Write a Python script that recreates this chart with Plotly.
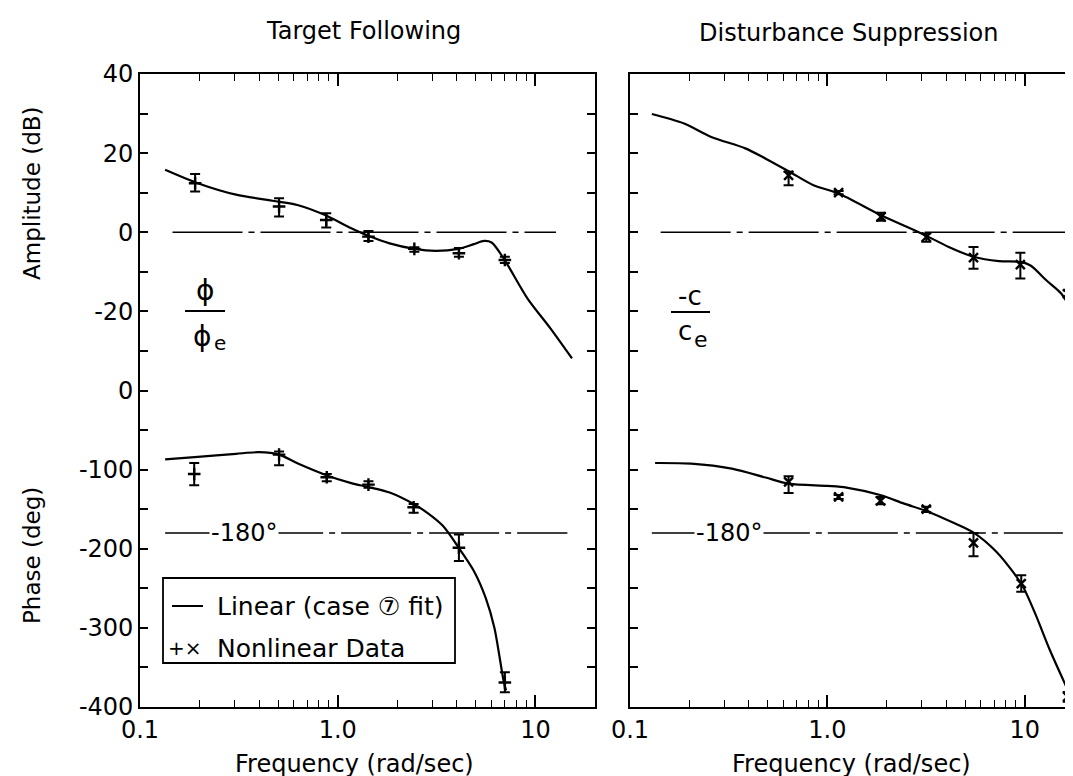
import plotly.graph_objects as go

# ---------------- data ----------------
# Target Following, amplitude (dB) linear-fit curve
TF_AMP_F = [0.134, 0.196, 0.306, 0.478, 0.625, 0.857, 1.17, 1.46, 1.83, 2.44, 3.12, 4.07, 4.88, 5.5, 6.0, 6.9, 9.1, 11.9, 15.3]
TF_AMP_DB = [15.8, 12.4, 9.5, 7.9, 6.9, 4.4, 1.0, -1.1, -2.8, -4.2, -4.7, -4.2, -3.0, -2.2, -2.6, -6.6, -16.7, -24.3, -31.9]
# Target Following, amplitude data points
TF_AMP_PT_F = [0.19, 0.505, 0.875, 1.43, 2.44, 4.1, 7.0]
TF_AMP_PT_DB = [12.4, 6.5, 3.1, -1.1, -4.2, -5.3, -7.0]
TF_AMP_PT_HI = [14.7, 8.6, 4.8, 0.3, -3.8, -4.0, -6.2]
TF_AMP_PT_LO = [10.3, 4.0, 1.2, -2.2, -4.9, -6.2, -7.8]
# Target Following, phase (deg) curve
TF_PH_F = [0.134, 0.196, 0.306, 0.40, 0.505, 0.625, 0.875, 1.17, 1.43, 1.83, 2.44, 2.85, 3.4, 4.1, 4.88, 5.6, 6.2, 6.9, 7.1]
TF_PH_DEG = [-87, -84, -80, -78, -81, -92, -107, -117, -122, -129, -144, -155, -171, -199, -228, -262, -300, -367, -379]
# Target Following, phase data points
TF_PH_PT_F = [0.188, 0.505, 0.88, 1.43, 2.42, 4.1, 7.0]
TF_PH_PT_DEG = [-105.5, -81, -109.7, -119, -147.5, -198.7, -369]
TF_PH_PT_HI = [-91.6, -77, -105.5, -114.7, -143.3, -182, -356]
TF_PH_PT_LO = [-119.7, -94.5, -114.7, -123, -154.6, -215.5, -381.5]

# Disturbance Suppression, amplitude curve
DS_AMP_F = [0.129, 0.188, 0.258, 0.384, 0.487, 0.643, 0.85, 1.14, 1.87, 3.0, 4.12, 5.5, 7.4, 9.5, 10.7, 12.9, 15.3, 16.9]
DS_AMP_DB = [29.9, 27.5, 24.1, 21.2, 18.6, 15.3, 11.9, 9.8, 4.3, -0.3, -3.7, -6.2, -7.3, -7.5, -8.4, -12.2, -15.5, -18.9]
DS_AMP_PT_F = [0.636, 1.14, 1.87, 3.17, 5.5, 9.5, 16.5]
DS_AMP_PT_DB = [14.4, 10.0, 3.9, -1.2, -6.4, -8.2, -15.5]
DS_AMP_PT_HI = [15.3, 10.4, 4.9, -0.3, -3.7, -5.2, -14.7]
DS_AMP_PT_LO = [11.9, 9.6, 2.9, -2.4, -9.2, -11.7, -16.4]
# Disturbance Suppression, phase curve
DS_PH_F = [0.134, 0.204, 0.328, 0.487, 0.636, 1.0, 1.25, 1.87, 2.45, 3.17, 4.44, 5.6, 7.2, 8.7, 9.8, 11.3, 13.4, 16.7]
DS_PH_DEG = [-91.6, -92.4, -98.7, -110, -117.7, -120.6, -122.7, -132.4, -143, -152.2, -168.2, -180.8, -204, -229, -248, -282, -328, -381]
DS_PH_PT_F = [0.636, 1.14, 1.86, 3.17, 5.5, 9.6, 16.5]
DS_PH_PT_DEG = [-115.6, -134.5, -139.6, -150, -192.6, -244, -387]
DS_PH_PT_HI = [-108.4, -132, -134.5, -147, -180, -233.5, -381]
DS_PH_PT_LO = [-129.5, -137, -143.8, -153.5, -209.5, -254.5, -393.5]

# reference lines: (f_start, f_end)
TF_ZERO_DB = [0.146, 12.7]
TF_M180 = [0.134, 14.5]
DS_ZERO_DB = [0.143, 16.1]
DS_M180 = [0.129, 15.6]

# tick labels
AMP_TICKS = [40, 20, 0, -20]
PHASE_TICKS = [0, -100, -200, -300, -400]
X_TICKS = [0.1, 1, 10]
X_TICK_TEXT = ["0.1", "1.0", "10"]
X_MINOR = [0.2, 0.3, 0.4, 0.5, 0.6, 0.7, 0.8, 0.9, 2, 3, 4, 5, 6, 7, 8, 9]

# ---------------- helpers ----------------
FONT = "DejaVu Sans"
BLACK = "black"
L, T, W, H = 132, 66, 941, 633  # plot area in pixels (figure 1073x776)


def amp(db):
    """dB -> shared vertical coordinate (20 dB per 100 units, 0 dB at 200)."""
    return [200 + 5 * d for d in db]


def P(px, py):
    return dict(x=(px - L) / W, y=(T + H - py) / H, xref="paper", yref="paper")


fig = go.Figure()


def curve(f, y, xa, ya):
    fig.add_trace(go.Scatter(x=f, y=y, mode="lines",
                             line=dict(color=BLACK, width=2.2, shape="spline", smoothing=0.8),
                             xaxis=xa, yaxis=ya, showlegend=False, hoverinfo="skip"))


def points(f, y, hi, lo, xa, ya, symbol):
    fig.add_trace(go.Scatter(
        x=f, y=y, mode="markers",
        marker=dict(symbol=symbol, size=9, color=BLACK, line=dict(color=BLACK, width=2.4)),
        error_y=dict(type="data", symmetric=False,
                     array=[h - c for h, c in zip(hi, y)],
                     arrayminus=[c - l for c, l in zip(y, lo)],
                     color=BLACK, thickness=2, width=5),
        xaxis=xa, yaxis=ya, showlegend=False, hoverinfo="skip"))


def refline(fr, yv, xa, ya):
    fig.add_trace(go.Scatter(x=fr, y=[yv, yv], mode="lines",
                             line=dict(color=BLACK, width=1.6, dash="70px,6px,6px,6px"),
                             xaxis=xa, yaxis=ya, showlegend=False, hoverinfo="skip"))


# reference lines
refline(TF_ZERO_DB, amp([0])[0], "x", "y")
refline(TF_M180, -180, "x", "y")
refline(DS_ZERO_DB, amp([0])[0], "x2", "y2")
refline(DS_M180, -180, "x2", "y2")

# left panel
curve(TF_AMP_F, amp(TF_AMP_DB), "x", "y")
curve(TF_PH_F, TF_PH_DEG, "x", "y")
points(TF_AMP_PT_F, amp(TF_AMP_PT_DB), amp(TF_AMP_PT_HI), amp(TF_AMP_PT_LO), "x", "y", "cross-thin")
points(TF_PH_PT_F, TF_PH_PT_DEG, TF_PH_PT_HI, TF_PH_PT_LO, "x", "y", "cross-thin")

# right panel
curve(DS_AMP_F, amp(DS_AMP_DB), "x2", "y2")
curve(DS_PH_F, DS_PH_DEG, "x2", "y2")
points(DS_AMP_PT_F, amp(DS_AMP_PT_DB), amp(DS_AMP_PT_HI), amp(DS_AMP_PT_LO), "x2", "y2", "x-thin")
points(DS_PH_PT_F, DS_PH_PT_DEG, DS_PH_PT_HI, DS_PH_PT_LO, "x2", "y2", "x-thin")

# y ticks: labels every 100 units, minor ticks in between
y_major = [200 + 5 * a for a in AMP_TICKS] + PHASE_TICKS
y_text = [str(a) for a in AMP_TICKS] + [str(p) for p in PHASE_TICKS]
y_minor = [v + 50 for v in y_major if v < 400]

xcommon = dict(type="log", tickmode="array", tickvals=X_TICKS, ticktext=X_TICK_TEXT,
               ticks="inside", ticklen=12, tickwidth=1.5, tickcolor=BLACK,
               showline=True, linecolor=BLACK, linewidth=1.6, mirror="ticks",
               showgrid=False, zeroline=False, automargin=False,
               minor=dict(tickvals=X_MINOR, ticks="inside", ticklen=7, tickwidth=1.3,
                          tickcolor=BLACK, showgrid=False),
               tickfont=dict(family=FONT, size=24, color=BLACK), ticklabelstandoff=0)
ycommon = dict(range=[-400, 400], tickmode="array", tickvals=y_major, ticktext=y_text,
               ticks="inside", ticklen=8, tickwidth=1.5, tickcolor=BLACK,
               showline=True, linecolor=BLACK, linewidth=1.6, mirror="ticks",
               showgrid=False, zeroline=False, domain=[0, 1], automargin=False,
               minor=dict(tickvals=y_minor, ticks="inside", ticklen=8, tickwidth=1.5,
                          tickcolor=BLACK, showgrid=False),
               tickfont=dict(family=FONT, size=24, color=BLACK))

fig.update_layout(
    width=1073, height=776, autosize=False,
    margin=dict(l=L, r=1073 - L - W, t=T, b=776 - T - H),
    paper_bgcolor="white", plot_bgcolor="white",
    font=dict(family=FONT, color=BLACK),
    xaxis=dict(xcommon, domain=[0, 455 / W], range=[-1, 1.301], anchor="y"),
    yaxis=dict(ycommon, anchor="x"),
    xaxis2=dict(xcommon, domain=[490 / W, 1], range=[-1, 1.285], anchor="y2"),
    yaxis2=dict(ycommon, anchor="x2", showticklabels=False),
)

ann = []


def text(s, px, py, size=23, angle=0, bg=None, anchor="center"):
    d = dict(P(px, py), text=s, showarrow=False, xanchor=anchor, yanchor="middle",
             font=dict(family=FONT, size=size, color=BLACK), textangle=angle)
    if bg:
        d["bgcolor"] = bg
    ann.append(d)


text("Target Following", 355, 23, 24)
text("Disturbance Suppression", 840, 25, 24)
text("Amplitude (dB)", 24, 185, 23, -90)
text("Phase (deg)", 24, 548, 23, -90)
text("Frequency (rad/sec)", 346, 756, 24)
text("Frequency (rad/sec)", 843, 756, 24)
# fraction labels
text("ϕ", 197, 282, 28)
text("ϕ", 194, 328, 28)
text("e", 212, 335, 20)
text("-c", 682, 288, 26)
text("c", 677, 323, 26)
text("e", 693, 331, 22)
text("-180°", 236, 525, 24, bg="white")
text("-180°", 721, 525, 24, bg="white")
# legend contents
text("Linear (case ⑦ fit)", 207, 598, 25, anchor="left")
text("+×", 177, 640, 20)
text("Nonlinear Data", 207, 640, 25, anchor="left")
fig.update_layout(annotations=ann)


def pline(x0, y0, x1, y1, w=2):
    a, b = P(x0, y0), P(x1, y1)
    return dict(type="line", xref="paper", yref="paper", x0=a["x"], y0=a["y"], x1=b["x"], y1=b["y"],
                line=dict(color=BLACK, width=w))


shapes = [
    pline(177, 303, 217, 303),
    pline(663, 304, 702, 304),
    pline(164, 598, 195, 598),
]
a, b = P(155, 570), P(447, 655)
shapes.append(dict(type="rect", xref="paper", yref="paper", x0=a["x"], y0=a["y"], x1=b["x"], y1=b["y"],
                   line=dict(color=BLACK, width=1.8), fillcolor="rgba(0,0,0,0)"))
fig.update_layout(shapes=shapes)

fig.write_html("out.html")
